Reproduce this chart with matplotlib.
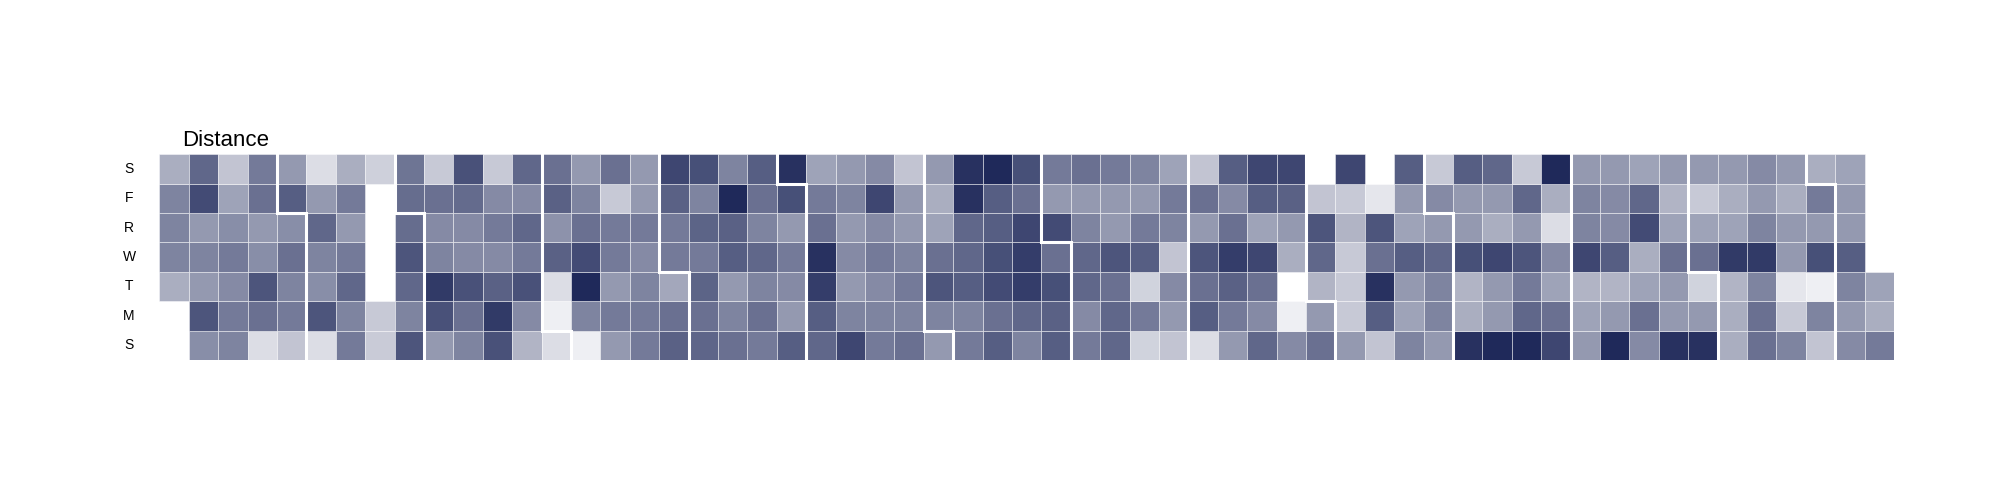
import numpy as np
import pandas as pd
import matplotlib
matplotlib.use("Agg")
import matplotlib.pyplot as plt
from matplotlib.patches import Rectangle
from matplotlib.collections import PatchCollection
from matplotlib.colors import LinearSegmentedColormap, PowerNorm

nan = np.nan

# Daily distance values, one list per month (2019-01-01 .. 2020-02-11)
jan_2019 = [3, 5, 5, 5, 3,
            4.5, 7.5, 4, 5, 4, 8, 6.5,
            5, 5.5, 4.7, 5.5, 4.5, 3.5, 2,
            1, 6, 7.5, 4.5, 4, 6, 5.5,
            2, 5.5, 5, 6, 4.5]
feb_2019 = [7, 4,
            1, 7.5, 4.5, 5, 6.5, 4, 1,
            5.5, 5, 6.5, 5.5, 4, 5.5, 3,
            1.7, 1.8, nan, nan, nan, nan, 1.5,
            7.5, 5, 6.5, 7.5, 6.2]
mar_2019 = [6.2, 5.8,
            4, 7.7, 9, 5, 4.7, 6, 1.8,
            5, 6, 7.7, 4.7, 4.7, 6.3, 7.7,
            7.7, 9, 6.8, 4.7, 5.5, 4.7, 1.8,
            2.7, 4.7, 7.7, 5.5, 6.5, 4.7, 6.5,
            1]
apr_2019 = [0.4, 1, 6.8, 4.3, 6.8, 6,
            0.4, 5, 10, 8, 6, 5, 4,
            4, 5.5, 4, 5.5, 5.5, 1.8, 6,
            5.5, 5.5, 5, 4.7, 5.5, 4, 4,
            6.8, 6, 3.3]
may_2019 = [5.5, 5.5, 6.8, 8.3,
            6.6, 6, 6.7, 5.5, 6.7, 5, 7.8,
            6, 5, 4, 7, 6.8, 10, 5,
            5.5, 6, 5, 6.5, 5, 6, 7,
            7, 4, 4.7, 5.5, 4, 7.8]
jun_2019 = [9.5,
            6.5, 7, 8.8, 9.5, 6, 5.5, 3.5,
            8.3, 5, 4, 4.7, 4, 5, 4,
            5.5, 5, 4.7, 5.5, 4.7, 8.3, 4.7,
            6, 5, 5.5, 5, 4, 4, 2,
            4]
jul_2019 = [5, 7.5, 6, 3.5, 3, 4,
            5.5, 5, 7, 6.5, 6.5, 9.5, 9.5,
            7, 6, 8, 7.8, 7, 7, 10,
            5, 6.5, 8.8, 8.8, 8.3, 6, 7.8,
            7, 6.8, 7.8, 6]
aug_2019 = [8, 4, 5.5,
            5.5, 4.7, 6.5, 6.5, 5, 4, 6,
            6.5, 6.5, 6, 7.5, 4, 4, 5.5,
            1.4, 5.5, 1.4, 7, 5.5, 4, 5,
            2, 4, 4.7, 2, 5, 5.5, 3.5]
sep_2019 = [1, 7, 6, 7.5, 4, 6, 2,
            4, 5.5, 6.8, 8.8, 6, 4.7, 7,
            6.5, 4.7, 6, 8.3, 3.5, 7, 8.3,
            4.7, 0.4, nan, 3, 4, 6.8, 8.3,
            6, 4]
oct_2019 = [2.7, 6.5, 7.5, 2, nan,
            4, 1.8, 1.8, 1.8, 2.7, 1.8, 8.3,
            2, 7, 9.5, 6, 7.5, 0.7, nan,
            5, 3.5, 4, 7, 3.5, 4, 7,
            4, 5, 5, 6.5, 4]
nov_2019 = [4.7, 1.8,
            9.5, 3, 2.7, 7.8, 4, 4, 7,
            10, 4, 4, 8.3, 3, 4, 6.5,
            10, 6.5, 5.5, 7.5, 4, 6.5, 1.8,
            8.3, 6, 3.5, 4.7, 1, 3, 10]
dec_2019 = [4, 3.5, 2.7, 8.3, 5, 5, 4,
            10, 4, 2.7, 7, 4.7, 4.7, 4,
            4.7, 6, 3.5, 3, 8, 6.5, 3.5,
            9.5, 4, 4, 6, 3.5, 2.7, 4,
            9.5, 4, 1.4]
jan_2020 = [6, 3.5, 1.8, 4,
            3, 3, 2.7, 9, 3.5, 3, 4,
            6, 6, 5, 9, 5, 4, 4.7,
            5, 1.8, 0.7, 4, 4, 3, 4,
            2, 5, 0.4, 7.8, 4, 5.5]
feb_2020 = [3,
            4.7, 4, 5, 7, 4, 4, 3.5,
            5.5, 3, 3.5]

start_date = "2019-01-01"
day_labels = ["S", "M", "T", "W", "R", "F", "S"]   # Sunday (bottom) .. Saturday (top)
title = "Distance"

months = [jan_2019, feb_2019, mar_2019, apr_2019, may_2019, jun_2019,
          jul_2019, aug_2019, sep_2019, oct_2019, nov_2019, dec_2019,
          jan_2020, feb_2020]
values = np.array([v for m in months for v in m], dtype=float)
dates = pd.date_range(start_date, periods=len(values), freq="D")
wd = ((dates.dayofweek + 1) % 7).to_numpy()          # Sun = 0
idx = np.arange(len(values))
col = (idx + wd[0]) // 7
ncols = col.max() + 1

cmap = LinearSegmentedColormap.from_list("navy", ["#ffffff", "#1f295a"])
norm = PowerNorm(gamma=0.8, vmin=0, vmax=10)

fig = plt.figure(figsize=(20, 5), dpi=100)
ax = fig.add_axes([0.0797, 0.28, 0.8673, 0.4116])
ax.set_xlim(0, ncols)
ax.set_ylim(0, 7)
ax.axis("off")

ok = ~np.isnan(values)
rects = [Rectangle((c, w), 1, 1) for c, w in zip(col[ok], wd[ok])]
pc = PatchCollection(rects, cmap=cmap, norm=norm,
                     edgecolor=(1, 1, 1, 0.45), linewidth=0.7)
pc.set_array(values[ok])
ax.add_collection(pc)

# month boundaries
for i, d in enumerate(dates):
    if d.day == 1 and i > 0:
        c, w = col[i], wd[i]
        if w == 0:
            xs, ys = [c, c], [0, 7]
        else:
            xs, ys = [c, c, c + 1, c + 1], [7, w, w, 0]
        ax.plot(xs, ys, color="white", lw=2.2, solid_capstyle="projecting",
                solid_joinstyle="miter", zorder=3)

for w, lab in enumerate(day_labels):
    ax.text(-1.03, w + 0.5, lab, ha="center", va="center",
            fontsize=10, family="Liberation Sans", color="black")

ax.text(0.76, 7.28, title, ha="left", va="baseline",
        fontsize=16, family="Liberation Sans", color="black")

fig.savefig("out.png", dpi=100)
